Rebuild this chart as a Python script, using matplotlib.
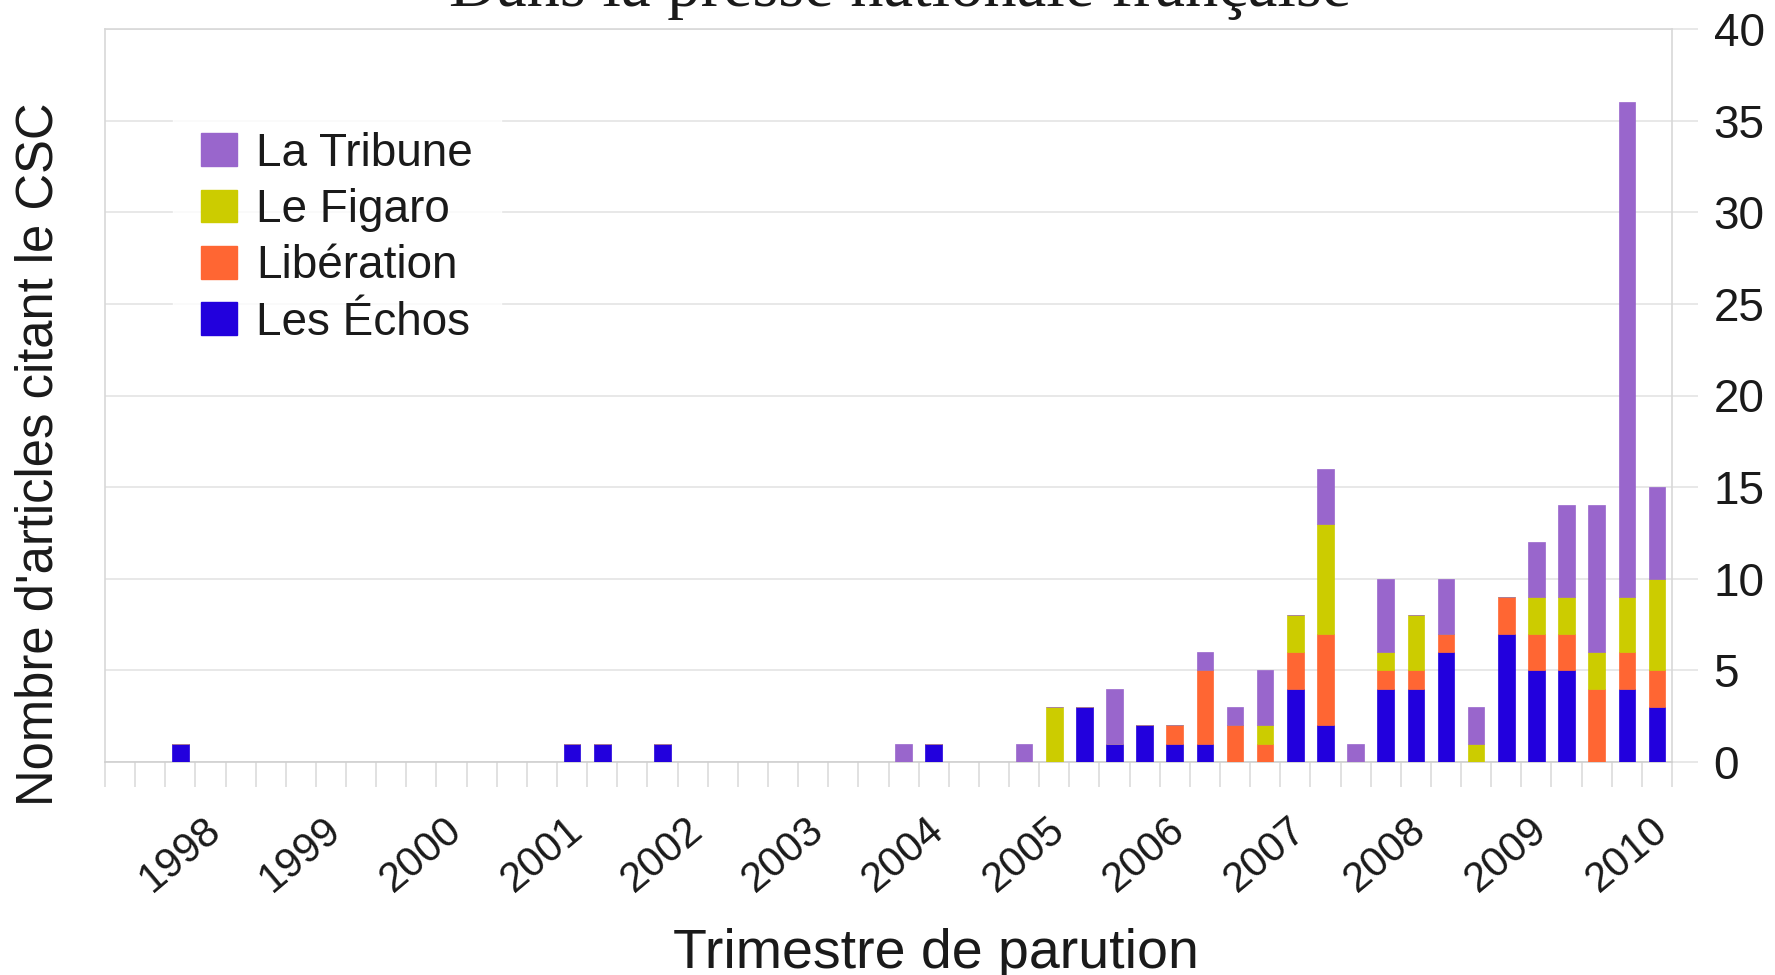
import numpy as np
import matplotlib.pyplot as plt
from matplotlib.patches import Patch

plt.rcParams['font.family'] = ['Liberation Sans', 'DejaVu Sans']

# Years shown on the x axis, one label every 4 quarters #
years = ['1998', '1999', '2000', '2001', '2002', '2003', '2004',
         '2005', '2006', '2007', '2008', '2009', '2010']

# Articles per quarter (4 values per year, 1998 -> 2010) #
echos = [0, 0, 1, 0,  0, 0, 0, 0,  0, 0, 0, 0,  0, 0, 0, 1,
         1, 0, 1, 0,  0, 0, 0, 0,  0, 0, 0, 1,  0, 0, 0, 0,
         3, 1, 2, 1,  1, 0, 0, 4,  2, 0, 4, 4,  6, 0, 7, 5,
         5, 0, 4, 3]
liberation = [0, 0, 0, 0,  0, 0, 0, 0,  0, 0, 0, 0,  0, 0, 0, 0,
              0, 0, 0, 0,  0, 0, 0, 0,  0, 0, 0, 0,  0, 0, 0, 0,
              0, 0, 0, 1,  4, 2, 1, 2,  5, 0, 1, 1,  1, 0, 2, 2,
              2, 4, 2, 2]
figaro = [0, 0, 0, 0,  0, 0, 0, 0,  0, 0, 0, 0,  0, 0, 0, 0,
          0, 0, 0, 0,  0, 0, 0, 0,  0, 0, 0, 0,  0, 0, 0, 3,
          0, 0, 0, 0,  0, 0, 1, 2,  6, 0, 1, 3,  0, 1, 0, 2,
          2, 2, 3, 5]
tribune = [0, 0, 0, 0,  0, 0, 0, 0,  0, 0, 0, 0,  0, 0, 0, 0,
           0, 0, 0, 0,  0, 0, 0, 0,  0, 0, 1, 0,  0, 0, 1, 0,
           0, 3, 0, 0,  1, 1, 3, 0,  3, 1, 4, 0,  3, 2, 0, 3,
           5, 8, 27, 5]

series = [('Les Échos', echos, '#2200dd'),
          ('Libération', liberation, '#ff6633'),
          ('Le Figaro', figaro, '#cccc00'),
          ('La Tribune', tribune, '#9966cc')]

# Make figure #
fig = plt.figure(figsize=(17.75, 9.75), dpi=100)
ax = fig.add_axes([105/1775, 1-762/975, (1672-105)/1775, (762-29)/975])

x = np.arange(len(echos))
bottom = np.zeros(len(echos))
for name, vals, col in series:
    vals = np.array(vals)
    ax.bar(x, vals, width=0.55, bottom=bottom, color=col, edgecolor=col,
           linewidth=0.5, zorder=3)
    bottom += vals

ax.set_xlim(-0.5, len(echos) - 0.5)
ax.set_ylim(0, 40)

# Grid and frame #
gridc = '#e4e4e4'
ax.yaxis.tick_right()
ax.set_yticks(np.arange(0, 41, 5))
ax.yaxis.grid(True, color=gridc, linewidth=1.2, zorder=0)
ax.tick_params(axis='y', length=19, width=1.2, color=gridc, pad=11,
               labelsize=33, labelcolor='#1a1a1a')
for s in ax.spines.values():
    s.set_color('#d8d8d8')
    s.set_linewidth(1.2)
ax.spines['bottom'].set_color('#cfcfcf')

# Quarter boundaries as ticks, years as minor labels #
ax.set_xticks(np.arange(-0.5, len(echos), 1.0))
ax.set_xticklabels([])
ax.tick_params(axis='x', which='major', length=18, width=1.2, color='#dcdcdc')
ax.set_xticks(np.arange(len(years)) * 4 + 2, minor=True)
ax.set_xticklabels(years, minor=True, rotation=40, ha='center', va='top',
                   fontsize=30, color='#1a1a1a')
ax.tick_params(axis='x', which='minor', length=0, pad=34)

# Legend #
handles = [Patch(facecolor=c, edgecolor=c, label=n) for n, v, c in series[::-1]]
leg = ax.legend(handles=handles, loc='upper left',
                bbox_to_anchor=(173/1775, 1-104/975), bbox_transform=fig.transFigure,
                fontsize=33, frameon=True, fancybox=False, borderaxespad=0,
                borderpad=0.6, handlelength=0.8, handleheight=0.72,
                handletextpad=0.42, labelspacing=0.27)
leg.get_frame().set_facecolor('white')
leg.get_frame().set_edgecolor('white')
leg.set_zorder(5)
for t in leg.get_texts():
    t.set_color('#1a1a1a')

# Texts #
fig.text(900/1775, 1-6/975, 'Dans la presse nationale française', ha='center',
         va='baseline', fontsize=48, family='Liberation Serif', color='#1a1a1a')
fig.text(936/1775, 1-968/975, 'Trimestre de parution', ha='center',
         va='baseline', fontsize=40, color='#1a1a1a')
fig.text(39/1775, 1-454/975, "Nombre d'articles citant le CSC", ha='center',
         va='center', rotation=90, fontsize=36.5, color='#1a1a1a')

fig.savefig('out.png', dpi=100)
